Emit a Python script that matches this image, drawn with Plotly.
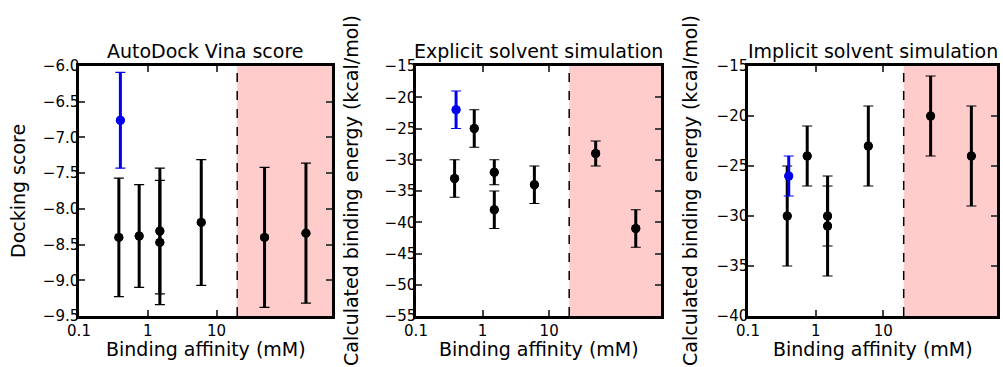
import numpy as np
import plotly.graph_objects as go

W, H = 1003, 367

# ---- data ----
affinity_blue = [0.4]
affinity_black = [0.38, 0.75, 1.5, 1.5, 6.0, 50.0, 200.0]
cutoff = 20.0

vina_blue = [-6.76]
vina_blue_err = [0.67]
vina_black = [-8.40, -8.38, -8.31, -8.47, -8.19, -8.40, -8.34]
vina_black_err = [0.83, 0.72, 0.88, 0.87, 0.88, 0.98, 0.98]

explicit_blue = [-22]
explicit_blue_err = [3]
explicit_black = [-33, -25, -32, -38, -34, -29, -41]
explicit_black_err = [3, 3, 2, 3, 3, 2, 3]

implicit_blue = [-26]
implicit_blue_err = [2]
implicit_black = [-30, -24, -30, -31, -23, -20, -24]
implicit_black_err = [5, 3, 3, 5, 4, 4, 5]

titles = ["AutoDock Vina score", "Explicit solvent simulation", "Implicit solvent simulation"]
ylabels = ["Docking score", "Calculated binding energy (kcal/mol)", "Calculated binding energy (kcal/mol)"]
xlabel = "Binding affinity (mM)"
xtick_vals = [0.1, 1, 10]
xtick_text = ["0.1", "1", "10"]
vina_ticks = [-9.5, -9.0, -8.5, -8.0, -7.5, -7.0, -6.5, -6.0]
explicit_ticks = [-55, -50, -45, -40, -35, -30, -25, -20, -15]
implicit_ticks = [-40, -35, -30, -25, -20, -15]
yticks = [vina_ticks, explicit_ticks, implicit_ticks]
yfmt = ["{:.1f}", "{:.0f}", "{:.0f}"]

panels = [
    (vina_blue, vina_blue_err, vina_black, vina_black_err),
    (explicit_blue, explicit_blue_err, explicit_black, explicit_black_err),
    (implicit_blue, implicit_blue_err, implicit_black, implicit_black_err),
]

# ---- layout geometry (pixels) ----
px_domains = [(79, 332), (416, 661), (748, 997)]
top_px, bot_px = 66, 316
ydom = [1 - bot_px / H, 1 - top_px / H]
xlog_range = [-1, 2.68]
ylabel_x = [18, 351, 690]

FONT = "DejaVu Sans"
BLUE = "#0000ee"
fig = go.Figure()
shapes = []
annotations = []

for i, (bv, be, kv, ke) in enumerate(panels):
    n = "" if i == 0 else str(i + 1)
    xa, ya = "x" + n, "y" + n
    for xs, ys, es, col in [(affinity_black, kv, ke, "black"), (affinity_blue, bv, be, BLUE)]:
        # thick bar without caps
        fig.add_trace(go.Scatter(x=xs, y=ys, mode="markers", xaxis=xa, yaxis=ya,
                                 marker=dict(color=col, size=9),
                                 error_y=dict(type="data", array=es, color=col, thickness=3, width=0),
                                 showlegend=False, hoverinfo="skip"))
        # thin caps
        fig.add_trace(go.Scatter(x=xs, y=ys, mode="markers", xaxis=xa, yaxis=ya,
                                 marker=dict(color=col, size=9),
                                 error_y=dict(type="data", array=es, color=col, thickness=1.2, width=5),
                                 showlegend=False))

    d0, d1 = px_domains[i]
    tv = yticks[i]
    tt = [yfmt[i].format(v).replace("-", "\u2212") for v in tv]
    fig.update_layout(**{
        ("xaxis" + n): dict(
            type="log", range=xlog_range, domain=[d0 / W, d1 / W], anchor=ya,
            tickvals=xtick_vals, ticktext=xtick_text, ticks="inside", ticklen=6, tickwidth=2,
            ticklabelstandoff=-1,
            showline=True, linewidth=2.5, linecolor="black", mirror="ticks",
            showgrid=False, zeroline=False, automargin=False,
            tickfont=dict(family=FONT, size=15, color="black"),
        ),
        ("yaxis" + n): dict(
            range=[tv[0], tv[-1]], domain=ydom, anchor=xa,
            tickvals=tv, ticktext=tt,
            ticks="inside", ticklen=6, tickwidth=2, ticklabelstandoff=-6,
            showline=True, linewidth=2.5, linecolor="black", mirror="ticks",
            showgrid=False, zeroline=False, automargin=False,
            tickfont=dict(family=FONT, size=15, color="black"),
        ),
    })
    shapes.append(dict(type="rect", xref=xa, yref=ya + " domain", x0=cutoff, x1=10 ** xlog_range[1],
                       y0=0, y1=1, fillcolor="#ffcccc", line=dict(width=0), layer="below"))
    shapes.append(dict(type="line", xref=xa, yref=ya + " domain", x0=cutoff, x1=cutoff,
                       y0=0, y1=1, line=dict(color="black", width=1.5, dash="dash"), layer="above"))

    cx = (d0 + d1) / 2 / W
    annotations.append(dict(text=titles[i], x=cx, y=1 - 51 / H, xref="paper", yref="paper",
                            xanchor="center", yanchor="middle", showarrow=False,
                            font=dict(family=FONT, size=19, color="black")))
    annotations.append(dict(text=xlabel, x=cx, y=1 - 349 / H, xref="paper", yref="paper",
                            xanchor="center", yanchor="middle", showarrow=False,
                            font=dict(family=FONT, size=19, color="black")))
    annotations.append(dict(text=ylabels[i], x=ylabel_x[i] / W, y=1 - 191 / H, xref="paper", yref="paper",
                            xanchor="center", yanchor="middle", showarrow=False, textangle=-90,
                            font=dict(family=FONT, size=19, color="black")))

fig.update_layout(width=W, height=H, margin=dict(l=0, r=0, t=0, b=0, autoexpand=False),
                  paper_bgcolor="white", plot_bgcolor="white",
                  shapes=shapes, annotations=annotations, showlegend=False)

fig.write_html("out.html", config={"displayModeBar": False},
               post_script="document.body.style.margin='0';document.body.style.padding='0';")
